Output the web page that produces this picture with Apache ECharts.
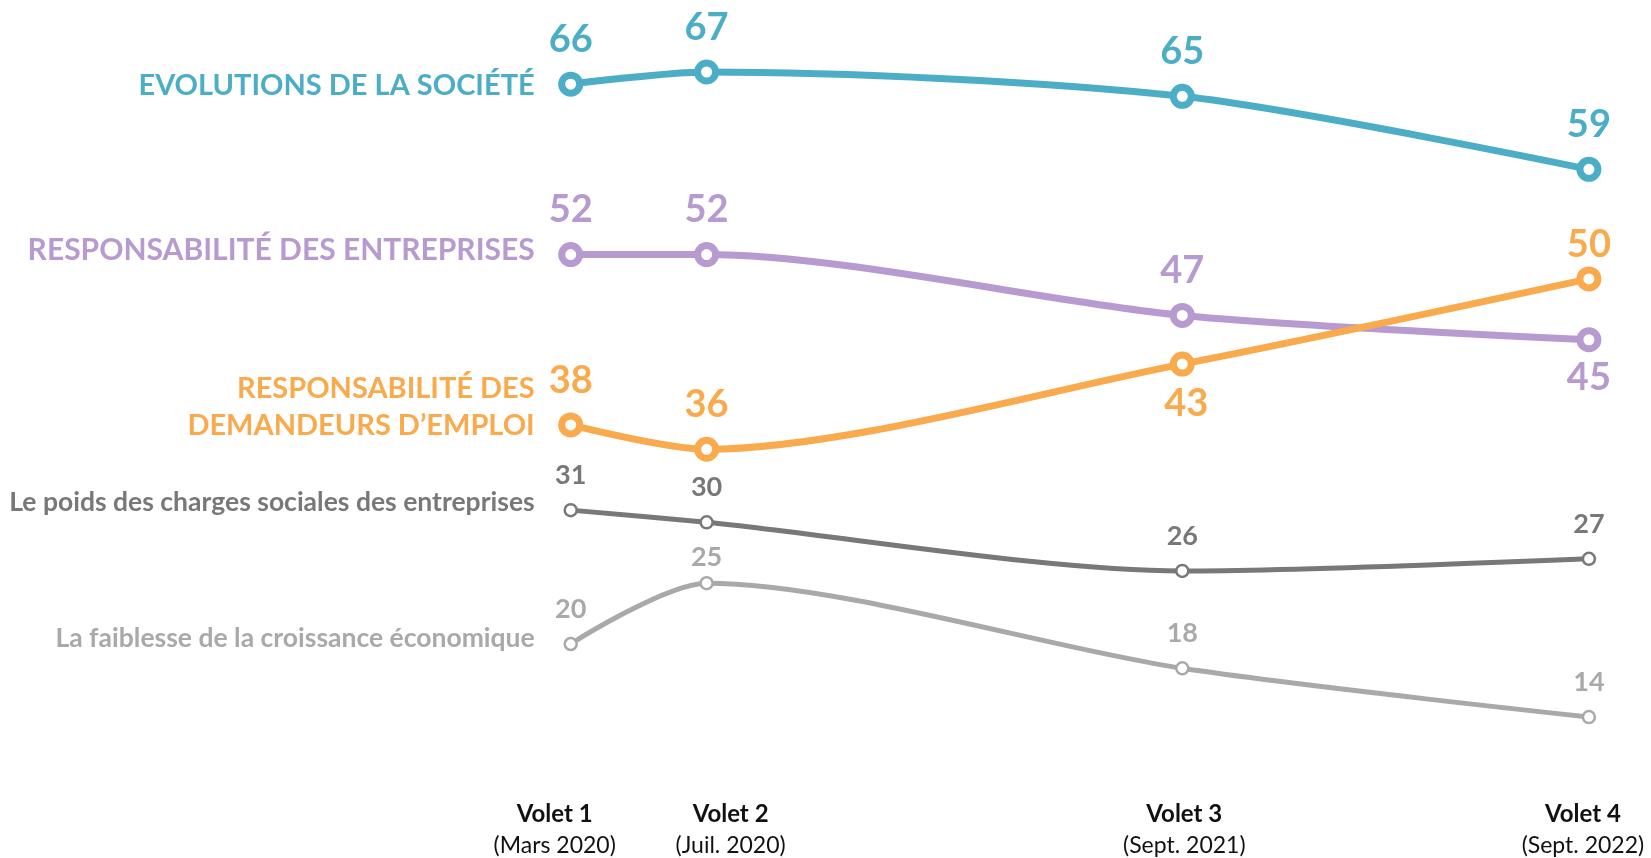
<!DOCTYPE html>
<html>
<head>
<meta charset="utf-8">
<script src="https://cdn.jsdelivr.net/npm/echarts@6/dist/echarts.min.js"></script>
<style>
html,body{margin:0;padding:0;background:#fff;}
#chart{width:1651px;height:858px;}
</style>
</head>
<body>
<div id="chart"></div>
<script>
// ---- data ----
const dates = ['2020-03-01', '2020-07-01', '2021-09-01', '2022-09-01'];
const voletLabels = ['Volet 1', 'Volet 2', 'Volet 3', 'Volet 4'];
const periodLabels = ['(Mars 2020)', '(Juil. 2020)', '(Sept. 2021)', '(Sept. 2022)'];
const seriesNames = [
  'EVOLUTIONS DE LA SOCIÉTÉ',
  'RESPONSABILITÉ DES ENTREPRISES',
  'RESPONSABILITÉ DES\nDEMANDEURS D’EMPLOI',
  'Le poids des charges sociales des entreprises',
  'La faiblesse de la croissance économique'
];
const evolutionsSociete = [66, 67, 65, 59];
const responsabiliteEntreprises = [52, 52, 47, 45];
const responsabiliteDemandeurs = [38, 36, 43, 50];
const chargesSociales = [31, 30, 26, 27];
const faiblesseCroissance = [20, 25, 18, 14];

// time values (ms) derived from the dates
const times = dates.map(d => Date.parse(d + 'T00:00:00Z'));

// ---- styles ----
const FONT = 'Lato';
const colors = ['#4BAEC6', '#B79ACF', '#F9AA4C', '#787878', '#A9A9A9'];
const xLabelShift = [-16, 24, 2, -6];
const SMOOTH = 0.28;

function buildSeries(idx, values, opt) {
  const c = colors[idx];
  return {
    type: 'line',
    name: seriesNames[idx],
    xAxisIndex: 0,
    smooth: SMOOTH,
    z: opt.z,
    symbol: 'circle',
    symbolSize: opt.symbolSize,
    showAllSymbol: true,
    lineStyle: { color: c, width: opt.lineWidth },
    itemStyle: { color: '#fff', borderColor: c, borderWidth: opt.borderWidth },
    emphasis: { disabled: true },
    label: {
      show: true,
      position: 'top',
      distance: opt.labelDistance,
      color: c,
      fontFamily: FONT,
      fontWeight: 'bold',
      fontSize: opt.valueFont
    },
    data: values.map((v, i) => {
      const item = { value: [times[i], v] };
      if (opt.overrides && opt.overrides[i]) item.label = opt.overrides[i];
      return item;
    }),
    markPoint: {
      symbol: 'circle',
      symbolSize: 0,
      silent: true,
      animation: false,
      data: [{
        coord: [times[0], values[0]],
        label: {
          show: true,
          position: 'left',
          distance: 36,
          offset: opt.nameOffset || [0, 0],
          formatter: seriesNames[idx],
          color: c,
          fontFamily: FONT,
          fontWeight: 'bold',
          fontSize: opt.nameFont,
          lineHeight: opt.nameLineHeight || Math.round(opt.nameFont * 1.2),
          align: 'right'
        }
      }]
    }
  };
}

// one x axis per period label, so that each label can be nudged on its own
const xAxes = times.map((t, i) => {
  const s = xLabelShift[i];
  const pad = s < 0 ? [0, -2 * s, 0, 0] : [0, 0, 0, 2 * s];
  return {
    type: 'value',
    gridIndex: 0,
    position: 'bottom',
    offset: 0,
    min: times[0],
    max: times[times.length - 1],
    axisLine: { show: false },
    axisTick: { show: false },
    splitLine: { show: false },
    axisLabel: {
      show: true,
      customValues: [t],
      margin: 33,
      hideOverlap: false,
      formatter: function () {
        return '{v|' + voletLabels[i] + '}\n{p|' + periodLabels[i] + '}';
      },
      rich: {
        v: { fontFamily: FONT, fontWeight: 'bold', fontSize: 24, color: '#111', lineHeight: 31, padding: pad },
        p: { fontFamily: FONT, fontSize: 23, color: '#111', lineHeight: 31, padding: pad }
      }
    }
  };
});

const option = {
  animation: false,
  backgroundColor: '#fff',
  grid: { left: 570.7, right: 62.1, top: 35.5, bottom: 92.3, containLabel: false, outerBoundsMode: 'none' },
  xAxis: xAxes,
  yAxis: {
    type: 'value',
    min: 10,
    max: 70,
    show: false,
    splitLine: { show: false }
  },
  series: [
    buildSeries(4, faiblesseCroissance, {
      z: 2, symbolSize: 12, borderWidth: 2.5, lineWidth: 5, valueFont: 27, labelDistance: 14, nameFont: 26.5,
      nameOffset: [0, -6],
      overrides: [null, { distance: 5 }, null, null]
    }),
    buildSeries(3, chargesSociales, {
      z: 3, symbolSize: 12, borderWidth: 2.5, lineWidth: 5, valueFont: 27, labelDistance: 14, nameFont: 26.5,
      nameOffset: [0, -8]
    }),
    buildSeries(1, responsabiliteEntreprises, {
      z: 4, symbolSize: 18, borderWidth: 7, lineWidth: 7, valueFont: 38, labelDistance: 13, nameFont: 30,
      nameOffset: [0, -4],
      overrides: [null, null, null, { position: 'bottom', distance: 6 }]
    }),
    buildSeries(2, responsabiliteDemandeurs, {
      z: 5, symbolSize: 18, borderWidth: 7, lineWidth: 7, valueFont: 38, labelDistance: 13, nameFont: 29,
      nameLineHeight: 37, nameOffset: [0, -18],
      overrides: [null, null, { position: 'bottom', distance: 8, offset: [4, 0] }, { distance: 3 }]
    }),
    buildSeries(0, evolutionsSociete, {
      z: 6, symbolSize: 18, borderWidth: 7, lineWidth: 7, valueFont: 38, labelDistance: 13, nameFont: 29,
      nameOffset: [0, 1]
    })
  ]
};

const chart = echarts.init(document.getElementById('chart'), null, { renderer: 'canvas' });
chart.setOption(option);
</script>
</body>
</html>
